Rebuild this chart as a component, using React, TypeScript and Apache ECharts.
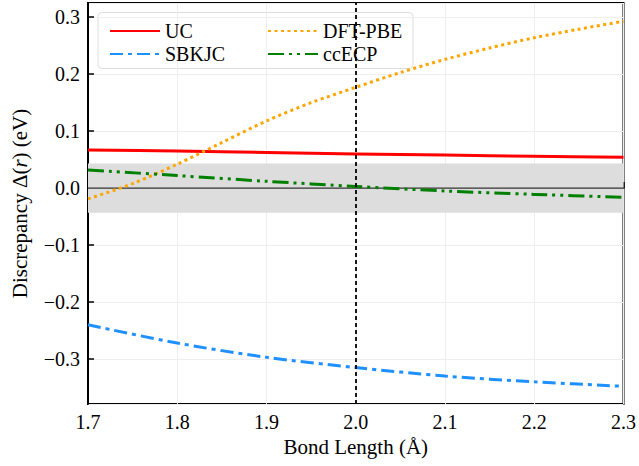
import React, { useEffect, useRef } from "react";
import * as echarts from "echarts";

// ---- data ----
const bondLengths = [1.7, 1.8, 1.9, 2.0, 2.1, 2.2, 2.3];
const ucValues = [0.067, 0.065, 0.0625, 0.06, 0.058, 0.056, 0.054];
const sbkjcValues = [-0.24, -0.272, -0.297, -0.315, -0.33, -0.34, -0.348];
const ccecpValues = [0.032, 0.022, 0.012, 0.003, -0.005, -0.011, -0.016];
const dftBondLengths = [1.7, 1.75, 1.8, 1.85, 1.9, 1.95, 2.0, 2.05, 2.1, 2.15, 2.2, 2.25, 2.3];
const dftValues = [-0.019, 0.008, 0.042, 0.08, 0.118, 0.15, 0.177, 0.203, 0.226, 0.246, 0.264, 0.279, 0.293];
const chemAccuracyBand = [-0.0434, 0.0434];
const zeroLineValues = [0, 0];
const zeroLineX = [1.7, 2.3];
const equilibriumX = [2.0];
const xTicks = [1.7, 2.3];
const yRange = [-0.379, 0.325];

const FONT = "Liberation Serif";

const pairs = (xs: number[], ys: number[]) => xs.map((x, i) => [x, ys[i]]);

export default function App() {
  const ref = useRef<HTMLDivElement>(null);
  useEffect(() => {
    if (!ref.current) return;
    const chart = echarts.init(ref.current, undefined, { renderer: "svg" });
    const legendCommon = {
      orient: "vertical" as const,
      top: 16,
      itemWidth: 50,
      itemHeight: 14,
      itemGap: 3,
      itemStyle: { opacity: 0 },
      textStyle: { fontFamily: FONT, fontSize: 20, color: "#000" },
    };
    const yFmt = (v: number) => {
      if (Math.abs(v * 10 - Math.round(v * 10)) > 1e-6) return "";
      const s = Math.abs(v).toFixed(1);
      return v < -1e-9 ? "\u2212" + s : s;
    };
    chart.setOption({
      animation: false,
      backgroundColor: "#fff",
      grid: {
        left: 88,
        right: 14,
        top: 3,
        bottom: 62,
        show: true,
        borderColor: "#000",
        borderWidth: 2,
        backgroundColor: "transparent",
      },
      legend: [
        { ...legendCommon, left: 104, data: ["UC", "SBKJC"] },
        { ...legendCommon, left: 262, data: ["DFT-PBE", "ccECP"] },
      ],
      graphic: [
        {
          type: "rect",
          z: 0,
          shape: { x: 98, y: 12.5, width: 315, height: 56, r: 4 },
          style: { fill: "rgba(255,255,255,0.8)", stroke: "#dddddd", lineWidth: 1 },
        },
      ],
      xAxis: {
        type: "value",
        min: xTicks[0],
        max: xTicks[1],
        interval: 0.1,
        name: "Bond Length (Å)",
        nameLocation: "middle",
        nameGap: 32,
        nameTextStyle: { fontFamily: FONT, fontSize: 21, color: "#000" },
        axisLine: { show: true, lineStyle: { color: "#000", width: 2 } },
        axisTick: { show: true, inside: true, length: 6, lineStyle: { color: "#000", width: 1.5 } },
        axisLabel: {
          fontFamily: FONT,
          fontSize: 20,
          color: "#000",
          margin: 8,
          formatter: (v: number) => v.toFixed(1),
        },
        splitLine: { show: true, lineStyle: { color: "#eeeeee", width: 1 } },
      },
      yAxis: {
        type: "value",
        min: yRange[0],
        max: yRange[1],
        splitNumber: 7,
        name: "Discrepancy Δ({it|r}) (eV)",
        nameLocation: "middle",
        nameGap: 58,
        nameTextStyle: {
          fontFamily: FONT,
          fontSize: 21,
          color: "#000",
          rich: { it: { fontFamily: FONT, fontSize: 21, fontStyle: "italic", color: "#000" } },
        },
        axisLine: { show: true, lineStyle: { color: "#000", width: 2 } },
        axisTick: { show: true, inside: true, length: 6, lineStyle: { color: "#000", width: 1.5 } },
        axisLabel: {
          fontFamily: FONT,
          fontSize: 20,
          color: "#000",
          margin: 8,
          showMinLabel: false,
          showMaxLabel: false,
          formatter: yFmt,
        },
        splitLine: { show: true, lineStyle: { color: "#eeeeee", width: 1 } },
      },
      series: [
        {
          name: "_zero",
          type: "line",
          symbol: "none",
          silent: true,
          z: 1,
          data: pairs(zeroLineX, zeroLineValues),
          lineStyle: { color: "#333333", width: 1.3 },
          markArea: {
            silent: true,
            itemStyle: { color: "#dddddd" },
            data: [[{ xAxis: zeroLineX[0], yAxis: chemAccuracyBand[0] }, { xAxis: zeroLineX[1], yAxis: chemAccuracyBand[1] }]],
          },
          markLine: {
            silent: true,
            symbol: "none",
            label: { show: false },
            lineStyle: { color: "#000", width: 1.8, type: [4, 3] },
            data: equilibriumX.map((x) => ({ xAxis: x })),
          },
        },
        {
          name: "UC",
          type: "line",
          symbol: "none",
          smooth: 0.3,
          z: 3,
          color: "#ff0000",
          lineStyle: { color: "#ff0000", width: 3 },
          data: pairs(bondLengths, ucValues),
        },
        {
          name: "SBKJC",
          type: "line",
          symbol: "none",
          smooth: 0.3,
          z: 3,
          color: "#1e90ff",
          lineStyle: { color: "#1e90ff", width: 3, type: [13, 5, 4, 5] },
          data: pairs(bondLengths, sbkjcValues),
        },
        {
          name: "DFT-PBE",
          type: "line",
          symbol: "none",
          smooth: 0.3,
          z: 3,
          color: "#ffa500",
          lineStyle: { color: "#ffa500", width: 3, type: [3, 3.5] },
          data: pairs(dftBondLengths, dftValues),
        },
        {
          name: "ccECP",
          type: "line",
          symbol: "none",
          smooth: 0.3,
          z: 3,
          color: "#008000",
          lineStyle: { color: "#008000", width: 3, type: [16, 5, 3, 5, 3, 5] },
          data: pairs(bondLengths, ccecpValues),
        },
      ],
    });
    return () => chart.dispose();
  }, []);
  return (
    <div
      ref={ref}
      style={{ position: "fixed", left: 0, top: 0, width: 639, height: 466, background: "#fff" }}
    />
  );
}
